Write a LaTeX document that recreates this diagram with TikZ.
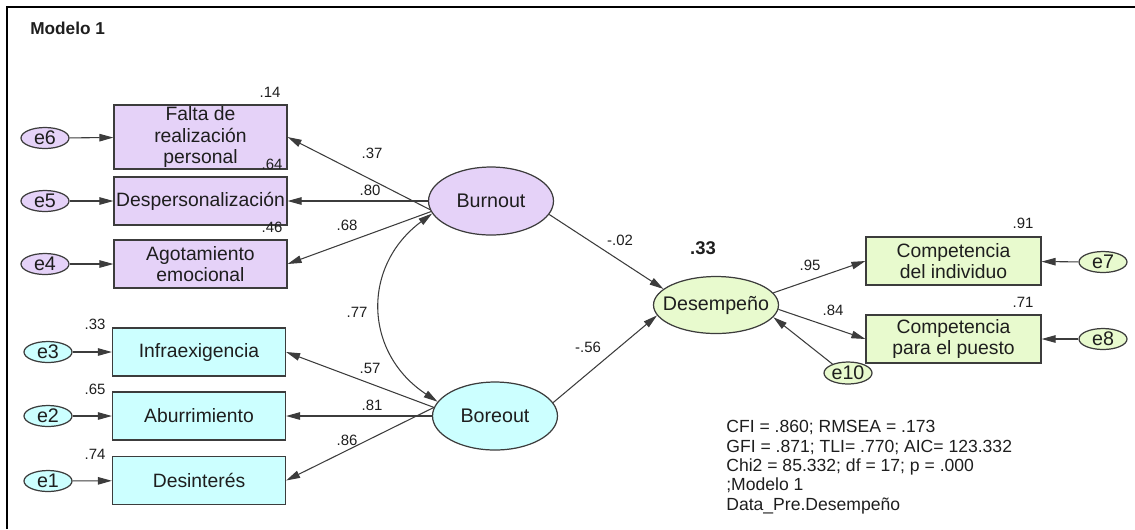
\documentclass[tikz,border=0pt]{standalone}
\usepackage{fontspec}
\setmainfont{Liberation Sans}
\usetikzlibrary{arrows.meta,shapes.geometric}
\newcommand{\latname}[1]{\makebox[0pt]{#1}}
\definecolor{semline}{RGB}{60,60,60}
\definecolor{semtext}{RGB}{30,30,30}
\definecolor{semviolet}{RGB}{229,210,248}
\definecolor{semcyan}{RGB}{204,255,255}
\definecolor{semgreen}{RGB}{232,250,206}
\tikzset{
  semobs/.style={draw=semline, line width=.7pt, minimum width=3.46cm, minimum height=.96cm, align=center, inner xsep=0pt, inner ysep=.5pt, font=\fontsize{11}{12.2}\selectfont},
  semlat/.style={draw=semline, line width=.7pt, ellipse, inner sep=0pt, minimum width=2.5cm, minimum height=1.36cm, font=\fontsize{11.2}{13}\selectfont},
  semerr/.style={draw=semline, line width=.7pt, ellipse, inner sep=0pt, minimum width=.96cm, minimum height=.42cm, font=\fontsize{11.2}{13}\selectfont},
  semcoef/.style={inner sep=0pt, font=\fontsize{8.5}{10}\selectfont},
  semarr/.style={-{Triangle[length=2.8mm,width=1.5mm]}, draw=semline, line width=.6pt},
  semcov/.style={{Triangle[length=2.8mm,width=1.5mm]}-{Triangle[length=2.8mm,width=1.5mm]}, draw=semline, line width=.6pt}
}
\begin{document}
\begin{tikzpicture}[x=0.02cm, y=-0.02cm, text=semtext]
  \useasboundingbox (0,0) rectangle (1135,529);
  \draw[line width=1.2pt] (7,529) -- (7,7) -- (1135,7);
  \node[anchor=west, inner sep=0pt, font=\bfseries\fontsize{9.8}{11}\selectfont] (title) at (30,28) {Modelo 1};
  % burnout indicators
  \node[semobs, fill=semviolet, minimum height=1.28cm] (falta) at (200.5,137) {Falta de\\realización\\personal};
  \node[semobs, fill=semviolet] (desp) at (200.5,201) {Despersonalización};
  \node[semobs, fill=semviolet] (agot) at (200.5,264) {Agotamiento\\emocional};
  \node[semerr, fill=semviolet] (e6) at (45,138) {e6};
  \node[semerr, fill=semviolet] (e5) at (45,201) {e5};
  \node[semerr, fill=semviolet] (e4) at (45,264) {e4};
  % boreout indicators
  \node[semobs, fill=semcyan] (infra) at (199,352) {Infraexigencia};
  \node[semobs, fill=semcyan] (abur) at (199,416) {Aburrimiento};
  \node[semobs, fill=semcyan] (desint) at (199,480.5) {Desinterés};
  \node[semerr, fill=semcyan] (e3) at (48,352) {e3};
  \node[semerr, fill=semcyan] (e2) at (48,416) {e2};
  \node[semerr, fill=semcyan] (e1) at (48,481) {e1};
  % latent variables
  \node[semlat, fill=semviolet] (burnout) at (491,201) {\latname{Burnout}};
  \node[semlat, fill=semcyan] (boreout) at (495,416) {\latname{Boreout}};
  \node[semlat, fill=semgreen, minimum height=1.14cm] (desemp) at (716,305) {\latname{Desempeño}};
  % performance indicators
  \node[semobs, fill=semgreen, minimum width=3.5cm] (ind) at (953.5,261) {Competencia\\del individuo};
  \node[semobs, fill=semgreen, minimum width=3.5cm] (puesto) at (953.5,339) {Competencia\\para el puesto};
  \node[semerr, fill=semgreen] (e7) at (1103,262) {e7};
  \node[semerr, fill=semgreen] (e8) at (1103,339) {e8};
  \node[semerr, fill=semgreen, minimum height=.44cm] (e10) at (848,373) {e10};
  % paths
  \draw[semarr] (e6) -- (falta);
  \draw[semarr] (e5) -- (desp);
  \draw[semarr] (e4) -- (agot);
  \draw[semarr] (e3) -- (infra);
  \draw[semarr] (e2) -- (abur);
  \draw[semarr] (e1) -- (desint);
  \draw[semarr] (burnout.188) -- (falta.east);
  \draw[semarr] (burnout.west) -- (desp.east);
  \draw[semarr] (burnout.190) -- (agot.east);
  \draw[semarr] (boreout.172) -- (infra.east);
  \draw[semarr] (boreout.west) -- (abur.east);
  \draw[semarr] (boreout.172) -- (desint.east);
  \draw[semcov] (burnout.192) to[bend right=55, looseness=1.2] (boreout.166);
  \draw[semarr] (burnout.-13) -- (desemp.163);
  \draw[semarr] (boreout.13) -- (desemp.190);
  \draw[semarr] (desemp.12) -- (ind.west);
  \draw[semarr] (desemp.-4) -- (puesto.west);
  \draw[semarr] (e7) -- (ind);
  \draw[semarr] (e8) -- (puesto);
  \draw[semarr] (e10.150) -- (desemp.-12);
  % estimates
  \node[semcoef] (r6) at (270,92) {.14};
  \node[semcoef] (r5) at (272,164) {.64};
  \node[semcoef] (r4) at (272,227) {.46};
  \node[semcoef] (r3) at (95,324) {.33};
  \node[semcoef] (r2) at (95,389) {.65};
  \node[semcoef] (r1) at (95,454) {.74};
  \node[semcoef] (l6) at (372,153) {.37};
  \node[semcoef] (l5) at (370,190) {.80};
  \node[semcoef] (l4) at (347,225) {.68};
  \node[semcoef] (cov) at (357,312) {.77};
  \node[semcoef] (l3) at (370,368) {.57};
  \node[semcoef] (l2) at (372,405) {.81};
  \node[semcoef] (l1) at (347,440) {.86};
  \node[semcoef] (b1) at (620,240) {-.02};
  \node[semcoef] (b2) at (588,347) {-.56};
  \node[semcoef] (l7) at (810,265) {.95};
  \node[semcoef] (l8) at (833,310) {.84};
  \node[semcoef] (r7) at (1023,223) {.91};
  \node[semcoef] (r8) at (1023,302) {.71};
  \node[semcoef, font=\bfseries\fontsize{10.5}{12}\selectfont] (rd) at (703,248) {.33};
  \node[anchor=north west, align=left, inner sep=0pt, font=\fontsize{10}{11.06}\selectfont] (fit) at (726,420)
    {CFI = .860; RMSEA = .173\\GFI = .871; TLI= .770; AIC= 123.332\\Chi2 = 85.332; df = 17; p = .000\\;Modelo 1\\Data\_Pre.Desempeño};
\end{tikzpicture}
\end{document}
